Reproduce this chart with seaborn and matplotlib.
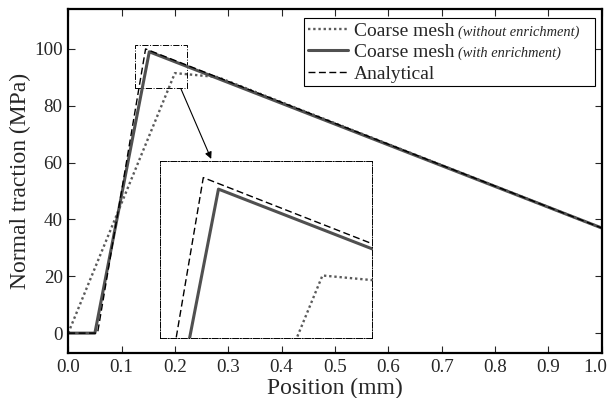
import pandas as pd
import matplotlib.pyplot as plt
import matplotlib.patches as patches
import matplotlib.transforms as mtransforms
import seaborn as sns

# Values
pos_coarse = [0.0, 0.2, 0.28, 1.0]
trac_coarse = [0.0, 91.5, 90.1, 37.0]

pos_enriched = [0.0, 0.05, 0.152, 1.0]
trac_enriched = [0.0, 0.0, 99.0, 37.0]

pos_analytical = [0.0, 0.055, 0.145, 1.0]
trac_analytical = [0.0, 0.0, 100.0, 37.0]

x_ticks = [0.0, 0.1, 0.2, 0.3, 0.4, 0.5, 0.6, 0.7, 0.8, 0.9, 1.0]
y_ticks = [0, 20, 40, 60, 80, 100]

# zoom window (source) and where the inset sits in data coords
zoom_x = [0.125, 0.223]
zoom_y = [86.1, 101.4]
inset_box = [0.172, -1.6, 0.398, 62.0]

sns.set_style('ticks')
plt.rcParams['font.family'] = ['Liberation Serif', 'DejaVu Serif']
plt.rcParams['xtick.direction'] = 'in'
plt.rcParams['ytick.direction'] = 'in'

coarse = pd.DataFrame({'pos': pos_coarse, 'trac': trac_coarse})
enriched = pd.DataFrame({'pos': pos_enriched, 'trac': trac_enriched})
analytical = pd.DataFrame({'pos': pos_analytical, 'trac': trac_analytical})


def draw_lines(a, with_labels=True):
    sns.lineplot(x='pos', y='trac', data=coarse, ax=a, sort=False, estimator=None,
                 color='#5a5a5a', lw=1.7, linestyle=(0, (1, 1.2)),
                 label='Coarse mesh' if with_labels else None)
    sns.lineplot(x='pos', y='trac', data=enriched, ax=a, sort=False, estimator=None,
                 color='#505050', lw=2.2, linestyle='-',
                 label='Coarse mesh' if with_labels else None)
    sns.lineplot(x='pos', y='trac', data=analytical, ax=a, sort=False, estimator=None,
                 color='black', lw=1.0, linestyle=(0, (5, 2.5)),
                 label='Analytical' if with_labels else None)


fig = plt.figure(figsize=(6.09, 3.98), dpi=100)
ax = fig.add_axes([0.112, 0.113, 0.876, 0.864])
draw_lines(ax)

ax.set_xlim(0, 1.0)
ax.set_ylim(-7, 114)
ax.set_xticks(x_ticks)
ax.set_xticklabels([f'{t:.1f}' for t in x_ticks])
ax.set_yticks(y_ticks)
ax.tick_params(labelsize=13.7, length=5, width=0.8, top=True, right=True, pad=4)
for s in ax.spines.values():
    s.set_linewidth(1.6)
    s.set_color('black')
ax.set_xlabel('Position (mm)', fontsize=17, labelpad=2)
ax.set_ylabel('Normal traction (MPa)', fontsize=17, labelpad=2)

# pull the last x tick label in a little so it stays inside the figure
last = ax.get_xticklabels()[-1]
last.set_transform(last.get_transform() +
                   mtransforms.ScaledTranslation(-6 / 100, 0, fig.dpi_scale_trans))

# source rectangle and arrow to the inset
ax.add_patch(patches.Rectangle((zoom_x[0], zoom_y[0]), zoom_x[1] - zoom_x[0],
                               zoom_y[1] - zoom_y[0], fill=False, ls='-.',
                               lw=0.7, ec='black'))
ax.annotate('', xy=(0.268, 61.3), xytext=(0.211, 86.1),
            arrowprops=dict(arrowstyle='-|>', color='black', lw=0.8,
                            mutation_scale=10, shrinkA=0, shrinkB=0))

# inset
ins = ax.inset_axes(inset_box, transform=ax.transData)
draw_lines(ins, with_labels=False)
ins.set_xlim(zoom_x)
ins.set_ylim(zoom_y)
ins.set_xticks([])
ins.set_yticks([])
ins.set_xlabel('')
ins.set_ylabel('')
for s in ins.spines.values():
    s.set_linestyle('-.')
    s.set_linewidth(0.7)
    s.set_color('black')

# legend
leg = ax.legend(loc='upper left', bbox_to_anchor=(0.442, 0.779, 0.545, 0.195),
                mode='expand', borderaxespad=0, fontsize=14, handlelength=2.05,
                handletextpad=0.3, labelspacing=0.2, borderpad=0.2,
                fancybox=False, framealpha=1, edgecolor='black')
leg.get_frame().set_linewidth(0.8)
texts = leg.get_texts()
for t, extra in zip(texts[:2], ['(without enrichment)', '(with enrichment)']):
    ax.annotate(extra, xy=(1, 0), xycoords=t, xytext=(3, 0.6),
                textcoords='offset points', fontsize=10.4, style='italic',
                va='bottom', ha='left', zorder=10)

fig.savefig('out.png', dpi=100)
